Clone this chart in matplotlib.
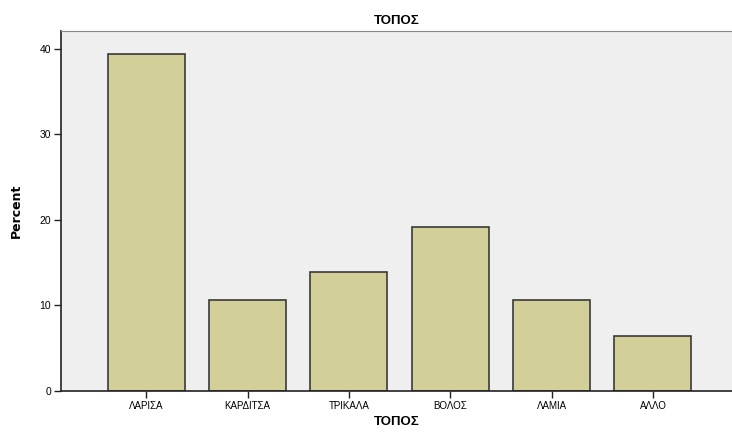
import matplotlib
matplotlib.use("Agg")
import matplotlib.pyplot as plt

# ΤΟΠΟΣ - percent per place
categories = ["ΛΑΡΙΣΑ", "ΚΑΡΔΙΤΣΑ", "ΤΡΙΚΑΛΑ", "ΒΟΛΟΣ", "ΛΑΜΙΑ", "ΑΛΛΟ"]
percent = [39.4, 10.6, 13.9, 19.2, 10.6, 6.4]
yticks = [0, 10, 20, 30, 40]

plt.rcParams['font.family'] = ['Liberation Sans', 'DejaVu Sans']

fig = plt.figure(figsize=(7.32, 4.32), dpi=100)
ax = fig.add_axes([61 / 732, 41 / 432, 1 - 61 / 732, 360 / 432])
ax.set_facecolor("#efefef")

x = list(range(len(categories)))
ax.bar(x, percent, width=0.76, color="#d3cf98", edgecolor="#3a3a3a", linewidth=1.2, zorder=2)

ax.set_xlim(-0.84, 5.78)
ax.set_ylim(0, 42.1)
ax.set_xticks(x)
ax.set_xticklabels(categories, fontsize=7)
ax.set_yticks(yticks)
ax.set_yticklabels([str(t) for t in yticks], fontsize=7.5)
ax.tick_params(axis="both", direction="out", length=5, width=1, color="#222222", pad=2)

ax.spines["right"].set_visible(False)
ax.spines["top"].set_color("#888888")
ax.spines["left"].set_color("#222222")
ax.spines["bottom"].set_color("#222222")
ax.spines["left"].set_linewidth(1.2)
ax.spines["bottom"].set_linewidth(1.2)

ax.set_title("ΤΟΠΟΣ", fontsize=9.5, fontweight="bold", pad=5)
ax.set_xlabel("ΤΟΠΟΣ", fontsize=9.5, fontweight="bold", labelpad=4)
ax.set_ylabel("Percent", fontsize=9, fontweight="bold", labelpad=12,
              family=['Liberation Sans Narrow', 'DejaVu Sans'])

fig.savefig("out.png", dpi=100)
